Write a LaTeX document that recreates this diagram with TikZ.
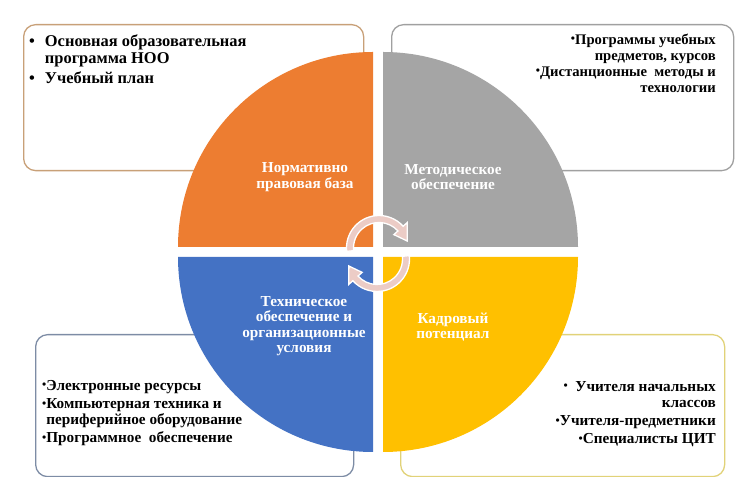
\documentclass[tikz,border=0pt]{standalone}
\usepackage{fontspec}
\setmainfont{Liberation Serif}
\usetikzlibrary{positioning, calc}
\definecolor{normorange}{RGB}{237,125,49}
\definecolor{metodgray}{RGB}{165,165,165}
\definecolor{techblue}{RGB}{68,114,196}
\definecolor{kadryellow}{RGB}{255,192,0}
\definecolor{tlborder}{RGB}{200,160,120}
\definecolor{trborder}{RGB}{160,160,160}
\definecolor{blborder}{RGB}{125,140,165}
\definecolor{brborder}{RGB}{225,210,120}
\definecolor{arrowpink}{RGB}{236,204,198}
\def \sbul {\raisebox{0.1em}{\fontsize{12}{12}\selectfont\textbullet}}

\begin{document}
\begin{tikzpicture}[
	  x=1bp, y=1bp,
	  box_style/.style={
	  	rectangle,
	  	rounded corners=12bp,
	  	fill=white,
	  	line width=1.3bp,
	  	anchor=north west
	  },
	  quad_label/.style={
	  	align=center,
	  	text=white,
	  	inner sep=0pt,
	  	font=\fontsize{15.3}{15.5}\selectfont\bfseries
	  },
	  list_style/.style={
	  	inner sep=0pt,
	  	text=black,
	  	font=\fontsize{15.3}{16.2}\selectfont\bfseries
	  },
	  arrow_style/.style={
	  	fill=arrowpink,
	  	draw=white,
	  	line width=1.3bp
	  }]
	\useasboundingbox (0,0) rectangle (750,477);
	% Boxes
	\node[box_style, draw=tlborder, minimum width=340bp, minimum height=146bp] (tlbox) at (23,453) {};
	\node[box_style, draw=trborder, minimum width=342bp, minimum height=146bp] (trbox) at (391,453) {};
	\node[box_style, draw=blborder, minimum width=318bp, minimum height=142bp] (blbox) at (35,143) {};
	\node[box_style, draw=brborder, minimum width=324bp, minimum height=142bp] (brbox) at (400,143) {};
	% Quadrants
	\fill[normorange] (373,230) -- ++(-195,0) arc[start angle=180, end angle=90, radius=195bp] -- cycle;
	\fill[metodgray] (383,230) -- ++(0,195) arc[start angle=90, end angle=0, radius=195bp] -- cycle;
	\fill[techblue] (373,220) -- ++(0,-195) arc[start angle=270, end angle=180, radius=195bp] -- cycle;
	\fill[kadryellow] (383,220) -- ++(195,0) arc[start angle=360, end angle=270, radius=195bp] -- cycle;
	% Quadrant labels
	\node[quad_label] (norm) at (305,300) {Нормативно\\правовая база};
	\node[quad_label] (metod) at (453,300) {Методическое\\обеспечение};
	\node[quad_label] (tech) at (304,151) {Техническое\\обеспечение и\\организационные\\условия};
	\node[quad_label] (kadr) at (453,150) {Кадровый\\потенциал};
	% Cycle arrows
	\coordinate (ctop) at (379,229);
	\coordinate (cbot) at (377,218);
	\draw[arrow_style] ($(ctop)+(186:32.5bp)$) arc[start angle=186, end angle=42, radius=32.5bp]
		-- ($(ctop)+(42:38bp)$) -- ($(ctop)+(14:29bp)$) -- ($(ctop)+(42:20bp)$) -- ($(ctop)+(42:25.5bp)$)
		arc[start angle=42, end angle=186, radius=25.5bp] -- cycle;
	\draw[arrow_style] ($(cbot)+(6:32.5bp)$) arc[start angle=6, end angle=-138, radius=32.5bp]
		-- ($(cbot)+(-138:38bp)$) -- ($(cbot)+(-166:29bp)$) -- ($(cbot)+(-138:20bp)$) -- ($(cbot)+(-138:25.5bp)$)
		arc[start angle=-138, end angle=6, radius=25.5bp] -- cycle;
	% Lists
	\node[list_style, anchor=north west, font=\fontsize{16.5}{16.2}\selectfont\bfseries] (tllist) at (29,442) {%
		\begin{tabular}{@{}l@{\hspace{10bp}}l@{}}
		\textbullet & Основная образовательная\\
		 & программа НОО\\[4bp]
		\textbullet & Учебный план
		\end{tabular}};
	\node[list_style, anchor=north east, font=\fontsize{14.7}{16}\selectfont\bfseries] (trlist) at (716,444) {%
		\begin{tabular}{@{}r@{}}
		\sbul Программы учебных\\
		предметов, курсов\\
		\sbul Дистанционные\ \ методы и\\
		технологии
		\end{tabular}};
	\node[list_style, anchor=north west] (bllist) at (42,98) {%
		\begin{tabular}{@{}l@{}l@{}}
		\sbul & Электронные ресурсы\\[2bp]
		\sbul & Компьютерная техника и\\
		 & периферийное оборудование\\[2bp]
		\sbul & Программное\ \ обеспечение
		\end{tabular}};
	\node[list_style, anchor=north east] (brlist) at (716,97) {%
		\begin{tabular}{@{}r@{}}
		\sbul\ \ Учителя начальных\\
		классов\\[2bp]
		\sbul Учителя-предметники\\[2bp]
		\sbul Специалисты ЦИТ
		\end{tabular}};
\end{tikzpicture}
\end{document}
